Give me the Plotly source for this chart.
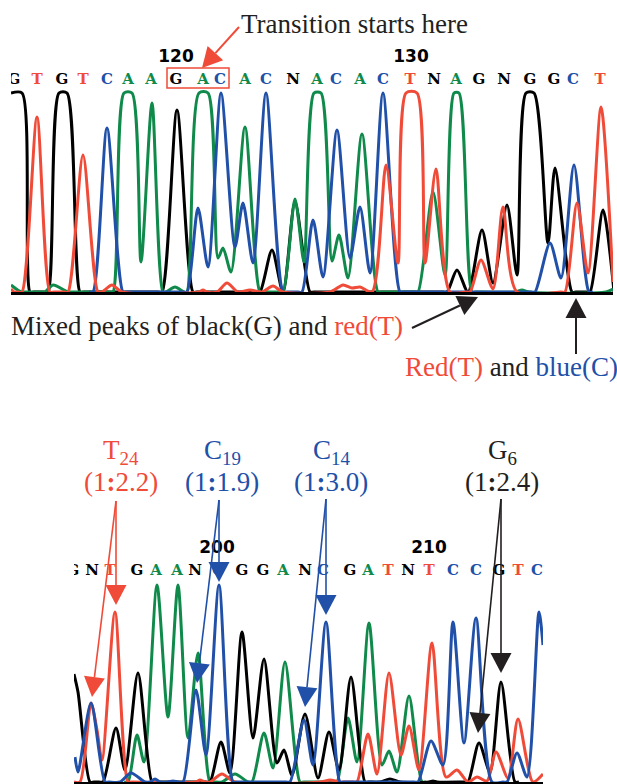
import math
import plotly.graph_objects as go

W, H = 617, 784
RED, BLUE, GREEN, BLACK, DARK = "#f04b38", "#2150a8", "#0f8a4a", "#000000", "#231f20"

# ---------- upper trace: scan position / signal height ----------
TOP_BLACK_X = [11,22,30,34,44,48,59,67,80,84,158,162,177,193,197,256,260,272,283,295,310,314,443,447,457,468,482,493,507,517,526,534,548,555,572,576,586,590,603,614]
TOP_BLACK_Y = [199,199,0,0,0,0,199,199,0,0,0,0,182,0,0,0,0,42,0,90,0,0,0,0,22,0,62,9,87,17,199,199,49,124,0,0,0,0,82,0]
TOP_RED_X = [11,14,18,22,37,50,54,64,68,83,98,102,112,122,199,203,207,217,227,238,250,262,273,283,330,343,352,360,372,386,398,406,417,425,436,450,466,470,481,493,503,517,561,565,577,588,601,613]
TOP_RED_Y = [3,0,0,0,175,0,0,0,0,137,0,0,7,0,0,2,0,0,9,0,2,0,6,0,0,7,4,5,0,127,29,199,199,29,123,0,0,0,32,3,85,0,0,0,89,19,185,10]
TOP_BLUE_X = [89,93,107,123,127,183,187,198,208,221,235,243,253,266,283,287,298,302,313,323,337,350,360,370,383,400,404,531,535,550,561,574,589,593]
TOP_BLUE_Y = [0,0,164,0,0,0,0,84,25,199,45,89,29,199,0,0,0,0,72,15,162,34,85,19,199,0,0,0,0,49,14,127,0,0]
TOP_GREEN_X = [11,21,25,41,45,53,68,72,109,113,124,132,141,152,163,166,175,184,187,199,208,218,223,231,245,260,264,279,283,295,304,314,321,332,339,348,362,378,382,414,418,433,445,454,459,472,476,515,522,529,606,613]
TOP_GREEN_Y = [7,0,0,0,0,7,0,0,0,0,199,199,30,189,0,0,5,0,0,199,199,34,44,20,165,0,0,0,0,93,30,199,199,31,57,14,158,0,0,0,0,100,17,199,199,0,0,0,2,0,0,3]
TOP_LETTERS = ["G","T","G","T","C","A","A","G","A","C","A","C","N","A","C","A","C","T","N","A","G","N","G","G","C","T"]
TOP_LETTER_X = [14,37,62,83,107,128,151,176,203,220,245,266,293,317,336,360,383,410,434,456,479,504,530,554,573,600]
TOP_NUMBERS = ["120","130"]
TOP_NUMBER_X = [176,411]

# ---------- lower trace ----------
BOT_BLACK_X = [74,78,90,94,99,103,116,125,138,152,156,206,210,221,230,242,253,264,277,284,292,305,318,329,339,351,365,369,380,390,400,429,433,437,464,468,479,490,501,515,519]
BOT_BLACK_Y = [108,90,0,0,0,0,54,12,109,0,0,0,0,40,9,150,44,123,19,32,7,68,4,50,12,105,0,0,0,3,0,0,1,0,0,0,39,10,100,0,0]
BOT_RED_X = [74,80,91,97,102,115,128,132,196,200,205,210,222,235,320,330,340,353,357,368,377,389,401,409,419,432,446,457,468,477,487,496,508,518,533,543]
BOT_RED_Y = [0,0,79,52,22,170,0,0,0,2,0,0,8,0,0,2,0,0,0,48,8,109,27,56,12,139,5,12,0,5,1,30,4,63,0,8]
BOT_BLUE_X = [75,78,91,105,109,120,131,145,150,155,160,168,173,178,183,196,206,219,233,237,286,290,304,313,326,340,344,414,418,431,443,453,464,476,492,503,507,517,527,539,543]
BOT_BLUE_Y = [25,10,79,0,0,0,9,0,0,3,0,0,1,0,0,92,27,197,0,0,0,0,62,17,160,0,0,0,0,41,17,160,39,164,0,0,0,29,5,170,137]
BOT_GREEN_X = [124,128,137,144,157,168,178,188,198,210,214,222,235,248,252,264,273,285,300,304,333,337,348,357,369,382,389,397,409,422,426]
BOT_GREEN_Y = [0,0,47,20,197,65,197,44,129,0,0,0,8,0,0,49,14,120,0,0,0,0,64,20,159,17,31,10,86,0,0]
BOT_LETTERS = ["G","N","T","G","A","A","N","C","G","G","A","N","C","G","A","T","N","T","C","C","G","T","C"]
BOT_LETTER_X = [73,92,110,137,156,177,195,218,242,263,283,305,323,350,368,388,408,429,453,476,499,518,537]
BOT_NUMBERS = ["200","210"]
BOT_NUMBER_X = [217,429]

LETTER_COLOR = {"G": BLACK, "N": BLACK, "T": RED, "C": BLUE, "A": GREEN}

# ---------- layout in window pixels ----------
TOP_L, TOP_R, TOP_BASE, TOP_H = 11, 613, 292, 250
BOT_L, BOT_R, BOT_BASE, BOT_H = 74, 543, 782, 242

def fx(x):
    return x / W

def fy(y):
    return 1 - y / H

fig = go.Figure()
series = [
    ("x", "y", TOP_BLACK_X, TOP_BLACK_Y, BLACK),
    ("x", "y", TOP_GREEN_X, TOP_GREEN_Y, GREEN),
    ("x", "y", TOP_BLUE_X, TOP_BLUE_Y, BLUE),
    ("x", "y", TOP_RED_X, TOP_RED_Y, RED),
    ("x2", "y2", BOT_GREEN_X, BOT_GREEN_Y, GREEN),
    ("x2", "y2", BOT_BLACK_X, BOT_BLACK_Y, BLACK),
    ("x2", "y2", BOT_RED_X, BOT_RED_Y, RED),
    ("x2", "y2", BOT_BLUE_X, BOT_BLUE_Y, BLUE),
]
for xa, ya, xs, ys, c in series:
    fig.add_trace(go.Scatter(x=xs, y=ys, xaxis=xa, yaxis=ya, mode="lines",
                             line=dict(color=c, width=3, shape="spline", smoothing=0.75),
                             hoverinfo="skip"))

for xa, ya, xs, letters, nums, nx in [
    ("x", "y", TOP_LETTER_X, TOP_LETTERS, TOP_NUMBERS, TOP_NUMBER_X),
    ("x2", "y2", BOT_LETTER_X, BOT_LETTERS, BOT_NUMBERS, BOT_NUMBER_X),
]:
    row = 212 if xa == "x" else 211
    fig.add_trace(go.Scatter(x=xs, y=[row] * len(xs), xaxis=xa, yaxis=ya, mode="text", text=letters,
                             textfont=dict(family="DejaVu Serif", size=15, weight="bold",
                                           color=[LETTER_COLOR[l] for l in letters]),
                             textposition="middle center", hoverinfo="skip"))
    fig.add_trace(go.Scatter(x=nx, y=[row + 22] * len(nx), xaxis=xa, yaxis=ya, mode="text", text=nums,
                             textfont=dict(family="DejaVu Sans", size=17, weight="bold", color=BLACK),
                             textposition="middle center", hoverinfo="skip"))

SERIF = "Liberation Serif"
anns = []
shapes = [dict(type="rect", xref="paper", yref="paper", x0=fx(167), x1=fx(229), y0=fy(88), y1=fy(68),
               line=dict(color=RED, width=1.5))]

def label(x, y, text, color=DARK, size=27, anchor="center"):
    anns.append(dict(xref="paper", yref="paper", x=fx(x), y=fy(y), text=text, showarrow=False,
                     xanchor=anchor, yanchor="middle",
                     font=dict(family=SERIF, size=size, color=color)))

def arrow(x0, y0, x1, y1, color, width=1.6, head_w=21, head_l=20):
    d = math.hypot(x1 - x0, y1 - y0)
    ux, uy = (x1 - x0) / d, (y1 - y0) / d
    bx, by = x1 - ux * head_l, y1 - uy * head_l
    shapes.append(dict(type="line", xref="paper", yref="paper", x0=fx(x0), y0=fy(y0), x1=fx(bx), y1=fy(by),
                       line=dict(color=color, width=width)))
    nx, ny = -uy * head_w / 2, ux * head_w / 2
    path = (f"M {fx(x1)} {fy(y1)} L {fx(bx + nx)} {fy(by + ny)} "
            f"L {fx(bx - nx)} {fy(by - ny)} Z")
    shapes.append(dict(type="path", xref="paper", yref="paper", path=path,
                       fillcolor=color, line=dict(width=0)))

label(239, 24, "Transition starts here", anchor="left")
label(9, 326, f'Mixed peaks of black(G) and <span style="color:{RED}">red(T)</span>', anchor="left")
label(403, 367, f'<span style="color:{RED}">Red(T)</span> and <span style="color:{BLUE}">blue(C)</span>', anchor="left")

for x, head, ratio, c in [
    (121, "T<sub>24</sub>", "(1<b>:</b>2.2)", RED),
    (222, "C<sub>19</sub>", "(1<b>:</b>1.9)", BLUE),
    (331, "C<sub>14</sub>", "(1<b>:</b>3.0)", BLUE),
    (502, "G<sub>6</sub>", "(1<b>:</b>2.4)", DARK),
]:
    label(x, 452, head, color=c)
    label(x, 482, ratio, color=c)

arrow(239, 27, 202, 68, RED, 2)
arrow(412, 328, 478, 297, DARK, 2)
arrow(576, 354, 576, 298, DARK, 2)
arrow(116, 501, 116, 605, RED)
arrow(116, 501, 92, 697, RED)
arrow(219, 500, 219, 582, BLUE)
arrow(219, 500, 197, 683, BLUE)
arrow(326, 499, 326, 615, BLUE)
arrow(326, 499, 305, 707, BLUE)
arrow(501, 499, 501, 673, DARK)
arrow(501, 499, 478, 733, DARK)

axis_x = dict(showgrid=False, zeroline=False, showticklabels=False, ticks="",
              showline=True, linecolor=BLACK, linewidth=3)
axis_y = dict(showgrid=False, zeroline=False, showticklabels=False, ticks="", showline=False)

fig.update_layout(
    width=W, height=H, margin=dict(l=0, r=0, t=0, b=0),
    paper_bgcolor="white", plot_bgcolor="white", showlegend=False,
    xaxis=dict(axis_x, domain=[fx(TOP_L), fx(TOP_R)], range=[TOP_L, TOP_R], anchor="y"),
    yaxis=dict(axis_y, domain=[fy(TOP_BASE), fy(TOP_BASE - TOP_H)], range=[0, TOP_H], anchor="x"),
    xaxis2=dict(axis_x, domain=[fx(BOT_L), fx(BOT_R)], range=[BOT_L, BOT_R], anchor="y2"),
    yaxis2=dict(axis_y, domain=[fy(BOT_BASE), fy(BOT_BASE - BOT_H)], range=[0, BOT_H], anchor="x2"),
    annotations=anns,
    shapes=shapes,
)

fig.write_html("out.html", post_script="document.body.style.margin='0';",
               config=dict(displayModeBar=False))
